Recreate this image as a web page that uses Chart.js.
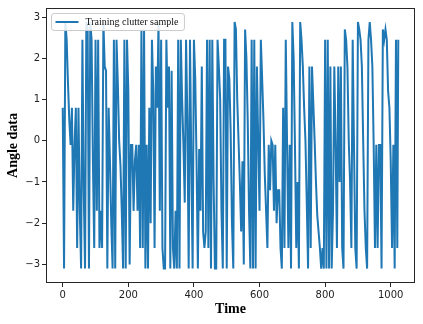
<!DOCTYPE html>
<html>
<head>
<meta charset="utf-8">
<script src="https://cdn.jsdelivr.net/npm/chart.js@4/dist/chart.umd.min.js"></script>
<style>
  html, body { margin: 0; padding: 0; background: #fff; }
  canvas { display: block; }
</style>
</head>
<body>
<canvas id="c" width="423" height="324"></canvas>
<script>
// ---- data (estimated) ----
const seriesLabel = "Training clutter sample";
const xTitle = "Time";
const yTitle = "Angle data";
const xTicks = [0, 200, 400, 600, 800, 1000];
const yTicks = [-3, -2, -1, 0, 1, 2, 3];
const time = [
  0,4,8,12,16,20,24,28,32,36,40,44,48,52,56,60,64,68,72,76,80,84,88,92,96,100,
  104,108,112,116,120,124,128,132,136,140,144,148,152,156,160,164,168,172,176,180,
  184,188,192,196,200,204,208,212,216,220,224,228,232,236,240,244,248,252,256,260,
  264,268,272,276,280,284,288,292,296,300,304,308,312,316,320,324,328,332,336,340,
  344,348,352,356,360,364,368,372,376,380,384,388,392,396,400,404,408,412,416,420,
  424,428,432,436,440,444,448,452,456,460,464,468,472,476,480,484,488,492,496,500,
  504,508,512,516,520,524,528,532,536,540,544,548,552,556,560,564,568,572,576,580,
  584,588,592,596,600,604,608,612,616,620,624,628,632,636,640,644,648,652,656,660,
  664,668,672,676,680,684,688,692,696,700,704,708,712,716,720,724,728,732,736,740,
  744,748,752,756,760,764,768,772,776,780,784,788,792,796,800,804,808,812,816,820,
  824,828,832,836,840,844,848,852,856,860,864,868,872,876,880,884,888,892,896,900,
  904,908,912,916,920,924,928,932,936,940,944,948,952,956,960,964,968,972,976,980,
  984,988,992,996,1000,1004,1008,1012,1016,1020,1023
];
const angle = [
  0.8,-3.1,2.88,2.45,1.4,0.5,-0.1,0.8,-1.7,-0.1,0.8,-2.6,0.8,-1.7,-3.1,2.45,-1.2,-3.1,2.88,2.7,-3.1,2.88,2.45,-0.5,-2.6,2.45,
  -1.7,2.45,-2.6,-1.7,-2.6,2.88,1.8,1.7,-3.1,0.8,-0.5,-2.0,-3.1,2.45,-3.1,2.45,1.4,0.0,-0.6,-1.7,
  -3.1,2.45,-3.1,2.45,1.2,-3.0,-0.1,-0.1,-1.7,-0.5,-0.1,-1.7,-0.1,-2.6,2.7,-2.6,2.7,-3.1,-0.1,-3.1,
  0.8,-2.0,2.45,1.2,-2.6,1.8,0.8,2.88,-1.7,2.45,-2.6,-3.1,-3.1,2.45,0.8,1.8,-3.1,1.7,-2.6,-3.1,
  -1.7,-3.1,2.45,-3.1,2.45,1.0,-0.1,-1.5,2.45,0.5,-3.1,2.45,-0.5,-3.1,2.45,1.5,-0.5,-3.1,-0.2,-1.7,
  1.8,-2.2,-2.6,-2.2,2.45,-2.6,2.45,-3.1,2.45,-1.0,-3.1,-3.1,2.45,1.8,1.0,-1.7,-3.1,2.45,2.45,-3.1,
  1.8,1.5,0.2,-2.0,-3.1,2.88,2.7,1.0,0.0,-1.0,-2.2,-0.5,-3.0,2.7,2.0,0.5,-1.7,-3.1,2.45,-3.1,
  2.45,-3.1,1.8,0.0,-1.7,2.45,1.5,0.5,-0.8,-1.7,-2.6,-0.1,-1.2,0.0,-0.1,-1.7,-0.1,-2.0,-1.2,-1.2,
  -2.6,-3.1,0.8,-2.6,2.45,-0.1,-2.6,-0.1,-3.1,2.88,2.0,-0.1,-2.6,-1.0,-3.1,2.88,2.45,1.8,0.8,0.0,
  -1.5,-3.1,1.8,-2.6,1.8,0.9,0.0,-1.0,-1.8,-2.2,-2.6,-3.1,-2.6,-3.1,2.45,-3.1,2.45,-3.1,1.8,-3.1,
  -1.7,1.8,-0.1,-2.6,1.8,-1.0,1.8,-2.6,-3.1,2.7,2.45,1.8,0.0,-1.0,-2.6,2.45,-0.1,-2.6,-3.1,2.88,
  2.7,2.45,1.8,0.0,-1.7,-2.6,-3.1,2.45,2.88,2.45,1.8,-0.1,-2.6,-0.1,-2.6,-0.1,-0.1,-3.1,2.7,2.45,
  2.7,2.45,1.2,0.8,-0.5,-2.6,-0.1,-3.1,2.45,-2.6,2.45
];
const lineColor = "#1f77b4";

// ---- chart ----
const points = time.map((t, i) => ({ x: t, y: angle[i] }));
const serif = "'Liberation Serif', 'Times New Roman', serif";
const sans = "'DejaVu Sans', sans-serif";

const framePlugin = {
  id: 'frame',
  afterDraw(chart) {
    const { ctx, chartArea: a } = chart;
    ctx.save();
    ctx.strokeStyle = '#262626';
    ctx.lineWidth = 1;
    ctx.strokeRect(Math.round(a.left) + 0.5, Math.round(a.top) + 0.5,
                   Math.round(a.right - a.left) - 1, Math.round(a.bottom - a.top) - 1);
    // legend inside plot, upper left
    const ds = chart.data.datasets[0];
    ctx.font = "10px " + serif;
    const tw = ctx.measureText(ds.label).width;
    const bx = a.left + 5.5, by = a.top + 5.5;
    const bw = 34 + tw + 6, bh = 17;
    const r = 2.5;
    ctx.beginPath();
    ctx.moveTo(bx + r, by);
    ctx.lineTo(bx + bw - r, by);
    ctx.quadraticCurveTo(bx + bw, by, bx + bw, by + r);
    ctx.lineTo(bx + bw, by + bh - r);
    ctx.quadraticCurveTo(bx + bw, by + bh, bx + bw - r, by + bh);
    ctx.lineTo(bx + r, by + bh);
    ctx.quadraticCurveTo(bx, by + bh, bx, by + bh - r);
    ctx.lineTo(bx, by + r);
    ctx.quadraticCurveTo(bx, by, bx + r, by);
    ctx.closePath();
    ctx.fillStyle = 'rgba(255,255,255,0.85)';
    ctx.fill();
    ctx.strokeStyle = '#cccccc';
    ctx.lineWidth = 1;
    ctx.stroke();
    ctx.beginPath();
    ctx.moveTo(bx + 4, by + bh / 2);
    ctx.lineTo(bx + 27, by + bh / 2);
    ctx.strokeStyle = ds.borderColor;
    ctx.lineWidth = 2;
    ctx.stroke();
    ctx.fillStyle = '#111';
    ctx.textBaseline = 'middle';
    ctx.textAlign = 'left';
    ctx.fillText(ds.label, bx + 34, by + bh / 2 + 0.5);
    ctx.restore();
  }
};

new Chart(document.getElementById('c'), {
  type: 'line',
  data: {
    datasets: [{
      label: seriesLabel,
      data: points,
      borderColor: lineColor,
      backgroundColor: lineColor,
      borderWidth: 2,
      pointRadius: 0,
      tension: 0,
      fill: false
    }]
  },
  options: {
    responsive: false,
    animation: false,
    devicePixelRatio: 1,
    layout: { padding: { top: 7, right: 8, left: 0, bottom: 0 } },
    plugins: { legend: { display: false }, tooltip: { enabled: false } },
    scales: {
      x: {
        type: 'linear',
        min: -51, max: 1074,
        afterBuildTicks: s => { s.ticks = xTicks.map(v => ({ value: v })); },
        afterFit: s => { s.height = 41; },
        border: { display: false },
        grid: { display: true, drawOnChartArea: false, drawTicks: true, tickLength: 4, color: '#262626' },
        ticks: { color: '#222', padding: 2, maxRotation: 0, font: { family: sans, size: 10 },
                 callback: v => String(v) },
        title: { display: true, text: xTitle, color: '#000', padding: { top: 0, bottom: 6 },
                 font: { family: serif, size: 14, weight: 'bold' } }
      },
      y: {
        type: 'linear',
        min: -3.45, max: 3.22,
        afterBuildTicks: s => { s.ticks = yTicks.map(v => ({ value: v })); },
        afterFit: s => { s.width = 46; },
        border: { display: false },
        grid: { display: true, drawOnChartArea: false, drawTicks: true, tickLength: 4, color: '#262626' },
        ticks: { color: '#222', padding: 2, font: { family: sans, size: 10 },
                 callback: v => (v < 0 ? '\u2212' + Math.abs(v) : String(v)) },
        title: { display: true, text: yTitle, color: '#000', padding: { top: 5, bottom: 0 },
                 font: { family: serif, size: 14, weight: 'bold' } }
      }
    }
  },
  plugins: [framePlugin]
});
</script>
</body>
</html>
